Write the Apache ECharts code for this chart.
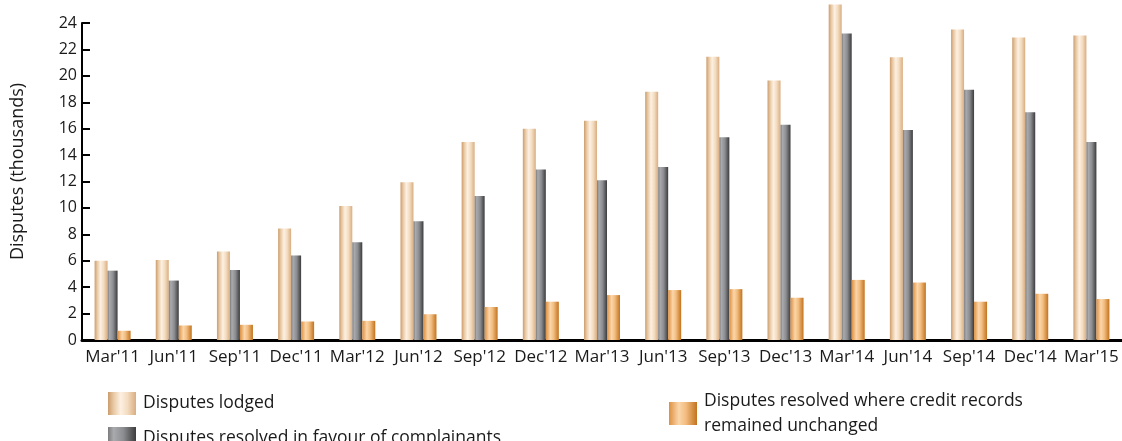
<!DOCTYPE html>
<html>
<head>
<meta charset="utf-8">
<script src="https://cdn.jsdelivr.net/npm/echarts@6/dist/echarts.min.js"></script>
<style>
  html, body { margin: 0; padding: 0; background: #fff; }
  #chart { width: 1122px; height: 441px; }
</style>
</head>
<body>
<div id="chart"></div>
<script>
// quarters shown on the x axis
const quarters = ["Mar'11", "Jun'11", "Sep'11", "Dec'11", "Mar'12", "Jun'12", "Sep'12", "Dec'12",
    "Mar'13", "Jun'13", "Sep'13", "Dec'13", "Mar'14", "Jun'14", "Sep'14", "Dec'14", "Mar'15"];

// values in thousands
const lodged = [6.0, 6.05, 6.7, 8.45, 10.15, 11.95, 15.0, 16.0, 16.6, 18.8, 21.45, 19.65, 25.4, 21.4, 23.5, 22.9, 23.05];
const inFavour = [5.25, 4.5, 5.3, 6.4, 7.4, 9.0, 10.9, 12.9, 12.1, 13.1, 15.35, 16.3, 23.2, 15.9, 18.95, 17.25, 15.0];
const unchanged = [0.7, 1.1, 1.15, 1.4, 1.45, 1.95, 2.5, 2.9, 3.4, 3.78, 3.85, 3.2, 4.55, 4.35, 2.9, 3.5, 3.1];

const names = [
    'Disputes lodged',
    'Disputes resolved in favour of complainants',
    'Disputes resolved where credit records remained unchanged'
];

const FONT = 'Open Sans';

const grad = (stops) => new echarts.graphic.LinearGradient(0, 0, 1, 0,
    stops.map(([offset, color]) => ({ offset, color })));

const tanFill = grad([[0, '#cc9c6c'], [0.2, '#e8c9a4'], [0.45, '#fdf0e2'], [0.7, '#f3dcc0'], [1, '#d9ad80']]);
const greyFill = grad([[0, '#7c7c7e'], [0.2, '#a9aaad'], [0.55, '#8c8d90'], [1, '#3c3c3e']]);
const orangeFill = grad([[0, '#de9040'], [0.35, '#fbd6aa'], [0.6, '#f2bd80'], [1, '#c2731e']]);

const chart = echarts.init(document.getElementById('chart'));

// one legend per entry so each can sit where it does in the picture
const legendItem = (name, left, top, extra) => Object.assign({
    left: left,
    top: top,
    data: [name],
    itemWidth: 28,
    itemHeight: 23,
    icon: 'rect',
    selectedMode: false,
    textStyle: { fontFamily: FONT, fontSize: 17.5, color: '#1a1a1a', padding: [0, 0, 0, 2] }
}, extra || {});

chart.setOption({
    animation: false,
    backgroundColor: '#fff',
    grid: { left: 82, right: -14, top: 23, bottom: 101 },
    legend: [
        legendItem(names[0], 103, 387),
        legendItem(names[1], 103, 422),
        legendItem(names[2], 664, 387, {
            formatter: () => 'Disputes resolved where credit records\nremained unchanged',
            textStyle: { fontFamily: FONT, fontSize: 17.5, color: '#1a1a1a', lineHeight: 25, height: 23, padding: [0, 0, 0, 2] }
        })
    ],
    xAxis: {
        type: 'category',
        data: quarters,
        axisLine: { lineStyle: { color: '#000', width: 3 } },
        axisTick: { show: false },
        axisLabel: { fontFamily: FONT, fontSize: 17, color: '#1a1a1a', margin: 9, interval: 0 }
    },
    yAxis: {
        type: 'value',
        min: 0,
        max: 24,
        interval: 2,
        name: 'Disputes (thousands)',
        nameLocation: 'middle',
        nameGap: 55,
        nameTextStyle: { fontFamily: FONT, fontSize: 18, color: '#1a1a1a', padding: [0, 0, 0, 20] },
        axisLine: { show: true, lineStyle: { color: '#000', width: 2 } },
        axisTick: { show: true, inside: true, length: 8, lineStyle: { color: '#000', width: 2 } },
        axisLabel: { fontFamily: FONT, fontSize: 16, color: '#1a1a1a', margin: 5 },
        splitLine: { show: false }
    },
    series: [
        { name: names[0], type: 'bar', data: lodged, barWidth: 13, barGap: '0%', clip: false, itemStyle: { color: tanFill } },
        { name: names[1], type: 'bar', data: inFavour, barWidth: 10, barGap: '0%', itemStyle: { color: greyFill } },
        { name: names[2], type: 'bar', data: unchanged, barWidth: 13, barGap: '0%', itemStyle: { color: orangeFill } }
    ]
});
</script>
</body>
</html>
